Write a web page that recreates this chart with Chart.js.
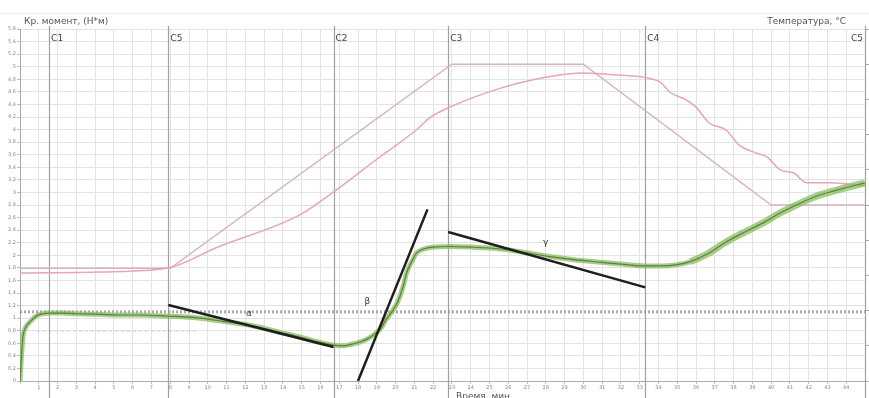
<!DOCTYPE html>
<html><head><meta charset="utf-8">
<script src="https://cdn.jsdelivr.net/npm/chart.js@4.4.1/dist/chart.umd.min.js"></script>
<style>html,body{margin:0;padding:0;background:#fff;overflow:hidden}#wrap{width:869px;height:398px}</style>
</head><body><div id="wrap"><canvas id="c" width="869" height="398"></canvas></div>
<script>
// ---- data ----
const torqueTime  = [0, 0.08, 0.16, 0.3, 0.53, 0.9, 1.22, 1.6, 2.13, 3, 4.26, 5.5, 6.4, 7.9, 8.8, 9.6, 10.8, 12.2, 13.5, 14.9, 15.9, 16.7, 17.2, 17.6, 18.1, 18.5, 18.9, 19.2, 19.5, 19.8, 20.1, 20.4, 20.6, 20.9, 21.1, 21.5, 22, 22.9, 24, 25.6, 27, 28.2, 29.5, 30.9, 32, 33.3, 34.1, 35, 35.7, 36.6, 37.6, 38.6, 39.6, 40.4, 41.2, 42.4, 43.3, 44.7, 45];
const torqueValue = [0, 0.4, 0.71, 0.85, 0.94, 1.04, 1.07, 1.08, 1.08, 1.07, 1.06, 1.05, 1.05, 1.03, 1.02, 1.0, 0.95, 0.89, 0.80, 0.70, 0.62, 0.57, 0.56, 0.58, 0.62, 0.67, 0.75, 0.83, 0.98, 1.1, 1.25, 1.5, 1.73, 1.92, 2.03, 2.1, 2.13, 2.14, 2.13, 2.10, 2.04, 1.98, 1.93, 1.89, 1.86, 1.83, 1.83, 1.85, 1.90, 2.02, 2.21, 2.37, 2.52, 2.66, 2.78, 2.94, 3.02, 3.13, 3.15];
const setTempTime  = [0, 8, 23, 30, 40, 45];
const setTempValue = [32, 32, 90, 90, 50, 50];
const measTempTime  = [0, 4.26, 7.88, 10.5, 14.9, 16.7, 19, 21.1, 21.8, 22.8, 25.6, 27.7, 30, 31.9, 33.4, 34.1, 34.6, 35.5, 36.0, 36.7, 37.6, 38.3, 39.2, 39.8, 40.5, 41.2, 41.9, 43.1, 45];
const measTempValue = [30.7, 31.0, 32.1, 38, 47.2, 53.7, 63, 71.3, 74.7, 77.6, 83.2, 86, 87.5, 86.9, 86.1, 84.9, 82.1, 79.8, 77.8, 73.3, 71.3, 67, 64.8, 63.6, 59.9, 59.1, 56.3, 56.3, 55.4];
const alphaTime = [7.9, 16.7],  alphaValue = [1.21, 0.54];
const betaTime  = [18.0, 21.7], betaValue  = [0, 2.73];
const gammaTime = [22.8, 33.3], gammaValue = [2.37, 1.49];
const refTime = [0, 45], refValue = [1.1, 1.1];
const faintTime = [0.9, 9.4], faintValue = [0.79, 0.79];
const markerNames = ['C1', 'C5', 'C2', 'C3', 'C4', 'C5'];
const markerTimes = [1.55, 7.9, 16.7, 22.8, 33.3, 45];
const slopeNames = ['α', 'β', 'γ'];
const slopeLabelTime = [12.2, 18.5, 28.0];
const slopeLabelValue = [1.07, 1.26, 2.2];
const leftTitle = 'Кр. момент, (Н*м)';
const rightTitle = 'Температура, °C';
const xTitle = 'Время, мин';

const pts = (xs, ys) => xs.map((x, i) => ({x, y: ys[i]}));
const FONT = '"DejaVu Sans", sans-serif';

const overlay = {
  id: 'overlay',
  beforeDatasetsDraw(chart) {
    const {ctx, scales: {x}} = chart;
    ctx.save();
    ctx.strokeStyle = '#eeeeee'; ctx.lineWidth = 1;
    ctx.beginPath(); ctx.moveTo(0, 13.5); ctx.lineTo(869, 13.5); ctx.stroke();
    ctx.strokeStyle = '#a0a0a0'; ctx.lineWidth = 1.2;
    markerTimes.forEach(t => {
      const px = Math.round(x.getPixelForValue(t)) + 0.5;
      ctx.beginPath(); ctx.moveTo(px, 26); ctx.lineTo(px, 398); ctx.stroke();
    });
    ctx.restore();
  },
  afterDraw(chart) {
    const {ctx, scales: {x, y}} = chart;
    ctx.save();
    ctx.fillStyle = '#555';
    ctx.font = '9px ' + FONT;
    ctx.textBaseline = 'alphabetic';
    ctx.textAlign = 'left';
    ctx.fillText(leftTitle, 24, 24);
    ctx.textAlign = 'right';
    ctx.fillText(rightTitle, 846, 24);
    ctx.textAlign = 'center';
    ctx.fillText(xTitle, 483, 399);
    ctx.fillStyle = '#444';
    markerTimes.forEach((t, i) => {
      const px = x.getPixelForValue(t);
      if (i === markerTimes.length - 1) { ctx.textAlign = 'right'; ctx.fillText(markerNames[i], px - 2, 41); }
      else { ctx.textAlign = 'left'; ctx.fillText(markerNames[i], px + 2, 41); }
    });
    ctx.textAlign = 'center'; ctx.textBaseline = 'middle';
    ctx.fillStyle = '#333';
    slopeNames.forEach((s, i) => ctx.fillText(s, x.getPixelForValue(slopeLabelTime[i]), y.getPixelForValue(slopeLabelValue[i])));
    ctx.restore();
  }
};

new Chart(document.getElementById('c'), {
  type: 'line',
  data: {
    datasets: [
      {data: pts(refTime, refValue), borderColor: 'rgba(150,150,150,0.8)', borderWidth: 3, borderDash: [2, 2], pointRadius: 0, yAxisID: 'y', order: 9},
      {data: pts(faintTime, faintValue), borderColor: 'rgba(170,170,230,0.45)', borderWidth: 1, borderDash: [3, 3], pointRadius: 0, yAxisID: 'y', order: 9},
      {data: pts(setTempTime, setTempValue), borderColor: '#d6b3bf', borderWidth: 1.5, pointRadius: 0, tension: 0, yAxisID: 'yT', order: 8},
      {data: pts(measTempTime, measTempValue), borderColor: '#e6a6b3', borderWidth: 1.5, pointRadius: 0, cubicInterpolationMode: 'monotone', yAxisID: 'yT', order: 7},
      {data: pts(torqueTime, torqueValue), borderColor: 'rgba(135,190,95,0.75)', borderWidth: 5,
        segment: {borderWidth: c => c.p0.parsed.x > 35 ? 7 : 5},
        pointRadius: 0, cubicInterpolationMode: 'monotone', yAxisID: 'y', order: 6},
      {data: pts(torqueTime, torqueValue), borderColor: '#5f7d3f', borderWidth: 1.2, pointRadius: 0, cubicInterpolationMode: 'monotone', yAxisID: 'y', order: 5},
      {data: pts(alphaTime, alphaValue), borderColor: '#1e1e1e', borderWidth: 2.5, pointRadius: 0, yAxisID: 'y', order: 1},
      {data: pts(betaTime, betaValue), borderColor: '#1e1e1e', borderWidth: 2.5, pointRadius: 0, yAxisID: 'y', order: 1},
      {data: pts(gammaTime, gammaValue), borderColor: '#1e1e1e', borderWidth: 2.5, pointRadius: 0, yAxisID: 'y', order: 1}
    ]
  },
  options: {
    responsive: false, animation: false,
    layout: {padding: {top: 29, left: 0, right: 0, bottom: 0}},
    plugins: {legend: {display: false}, tooltip: {enabled: false}, title: {display: false}},
    scales: {
      x: {type: 'linear', min: 0, max: 45,
        ticks: {stepSize: 1, autoSkip: false, maxRotation: 0, padding: 1, color: '#888', font: {size: 5, family: FONT},
          callback: v => (v === 0 || v === 45) ? '' : String(v)},
        grid: {color: '#e3e3e3', tickLength: 3, tickColor: '#bbb'},
        border: {color: '#aaa'},
        afterFit: s => { s.height = 17; }
      },
      y: {position: 'left', min: 0, max: 5.6,
        ticks: {stepSize: 0.2, padding: 1, color: '#888', font: {size: 5, family: FONT},
          callback: v => String(Number(v.toFixed(1))).replace('.', ',')},
        grid: {color: '#e3e3e3', tickLength: 3, tickColor: '#bbb'},
        border: {color: '#aaa'},
        afterFit: s => { s.width = 20; }
      },
      yT: {position: 'right', min: 0, max: 100,
        ticks: {stepSize: 10, display: false},
        grid: {drawOnChartArea: false, tickLength: 4, tickColor: '#aaa'},
        border: {color: '#aaa'},
        afterFit: s => { s.width = 4; }
      }
    }
  },
  plugins: [overlay]
});
</script></body></html>
